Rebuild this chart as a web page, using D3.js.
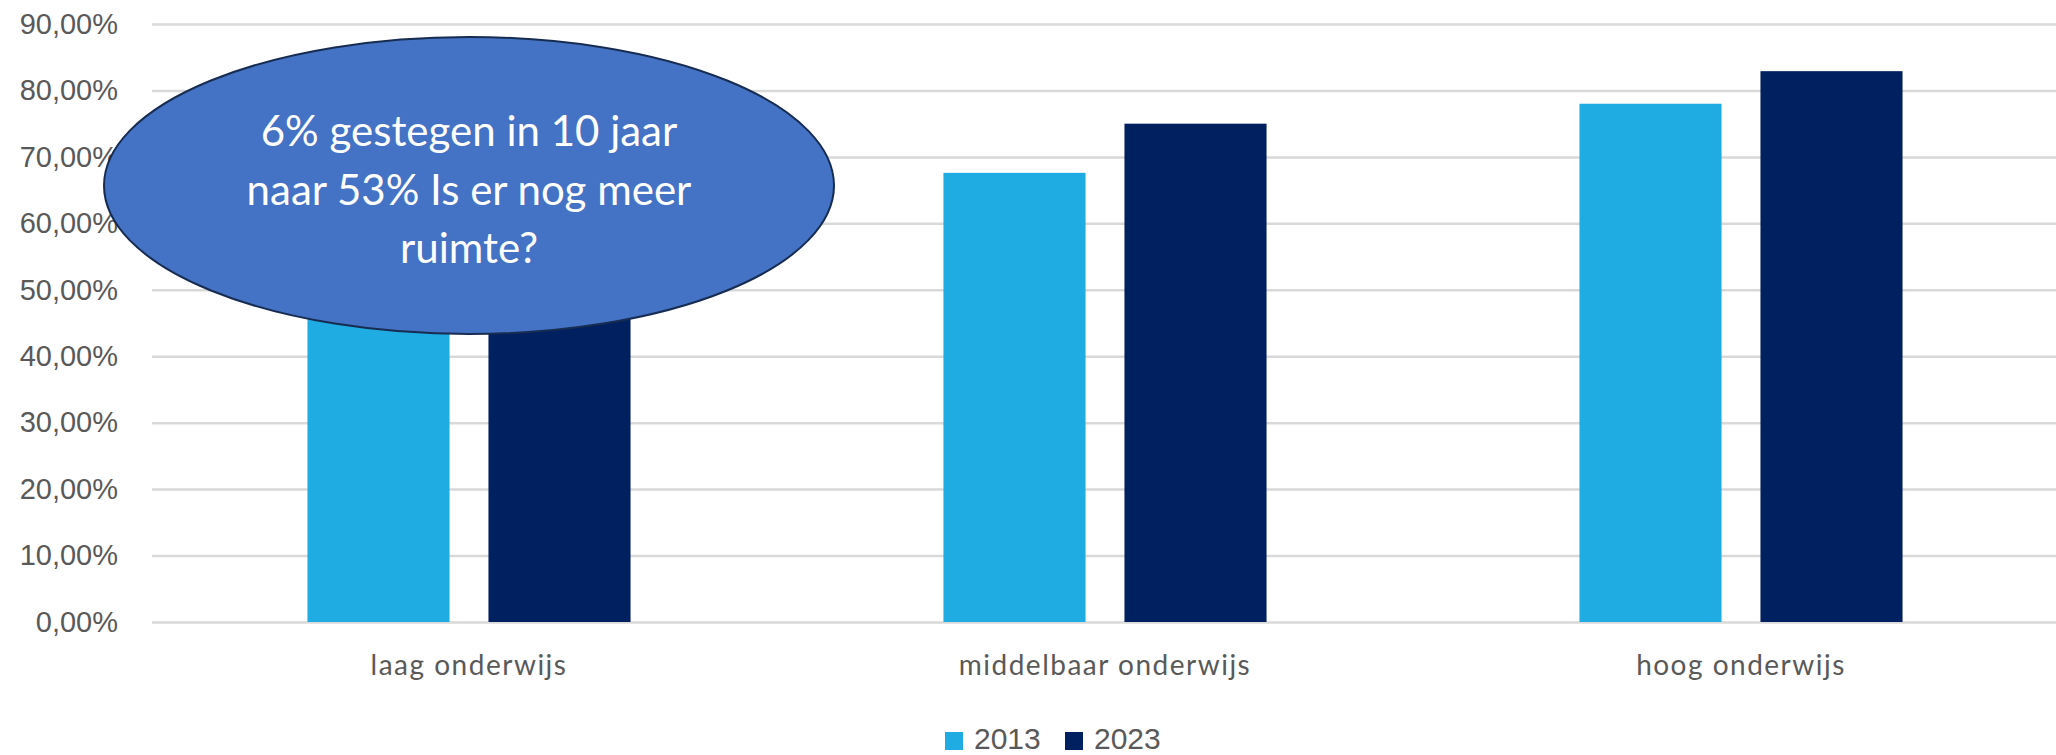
<!DOCTYPE html>
<html>
<head>
<meta charset="utf-8">
<script src="https://cdn.jsdelivr.net/npm/d3@7"></script>
<style>
  body { margin: 0; background: #fff; }
  svg { display: block; }
</style>
</head>
<body>
<svg id="chart" width="2056" height="755"></svg>
<script>
let categories = ["laag onderwijs", "middelbaar onderwijs", "hoog onderwijs"];
let years = ["2013", "2023"];
let values2013 = [0.47, 0.676, 0.78];
let values2023 = [0.53, 0.75, 0.829];
let yTicks = [0, 0.1, 0.2, 0.3, 0.4, 0.5, 0.6, 0.7, 0.8, 0.9];
let colors = ["#1EACE2", "#002060"];
let bubbleLines = ["6% gestegen in 10 jaar", "naar 53% Is er nog meer", "ruimte?"];

let svg = d3.select("#chart");
let width = +svg.attr("width");

let nl = d3.formatLocale({ decimal: ",", thousands: ".", grouping: [3], currency: ["€", ""] });
let pct = nl.format(".2%");

let x0 = d3.scaleBand().domain(categories).range([151, 2059]).padding(0);
let groupW = x0.bandwidth() * 0.508;
let x1 = d3.scaleBand().domain(years).range([0, groupW]).paddingInner(0.215).paddingOuter(0);
let y = d3.scaleLinear().domain([0, 0.9]).range([622, 24]);

// gridlines
svg.append("g")
  .attr("transform", "translate(152,0)")
  .call(d3.axisLeft(y).tickValues(yTicks).tickSize(-(width - 152)).tickFormat(""))
  .call(g => g.select(".domain").remove())
  .call(g => g.selectAll("line").attr("stroke", "#D9D9D9").attr("stroke-width", 2.5));

// y labels
svg.append("g")
  .attr("transform", "translate(152,0)")
  .call(d3.axisLeft(y).tickValues(yTicks).tickSize(0).tickPadding(34).tickFormat(pct))
  .call(g => g.select(".domain").remove())
  .call(g => g.selectAll("text")
    .attr("fill", "#595959")
    .style("font-family", "'Liberation Sans', Arial, sans-serif")
    .style("font-size", "29px"));

// bars
let rows = categories.map((c, i) => ({ cat: c, vals: [values2013[i], values2023[i]] }));

let group = svg.selectAll(".grp")
  .data(rows)
  .enter()
  .append("g")
  .attr("class", "grp")
  .attr("transform", d => `translate(${x0(d.cat) + (x0.bandwidth() - groupW) / 2},0)`);

group.selectAll("rect")
  .data(d => d.vals.map((v, j) => ({ year: years[j], v: v, c: colors[j] })))
  .enter()
  .append("rect")
  .attr("x", d => x1(d.year))
  .attr("y", d => y(d.v))
  .attr("width", x1.bandwidth())
  .attr("height", d => y(0) - y(d.v))
  .attr("fill", d => d.c);

// x labels
svg.append("g")
  .attr("transform", "translate(0,622)")
  .call(d3.axisBottom(x0).tickSize(0).tickPadding(33))
  .call(g => g.select(".domain").remove())
  .call(g => g.selectAll("text")
    .attr("fill", "#595959")
    .style("font-family", "Lato, sans-serif")
    .style("font-size", "28px")
    .style("letter-spacing", "1.5px"));

// legend
let legend = svg.append("g").attr("transform", "translate(945,732)");
let legendX = [0, 120];
let item = legend.selectAll("g")
  .data(years)
  .enter()
  .append("g")
  .attr("transform", (d, i) => `translate(${legendX[i]},0)`);
item.append("rect").attr("width", 18).attr("height", 18).attr("fill", (d, i) => colors[i]);
item.append("text")
  .attr("x", 29)
  .attr("y", 17)
  .attr("fill", "#595959")
  .style("font-family", "'Liberation Sans', Arial, sans-serif")
  .style("font-size", "30px")
  .text(d => d);

// callout bubble
let bubble = svg.append("g");
bubble.append("ellipse")
  .attr("cx", 469)
  .attr("cy", 185.5)
  .attr("rx", 365)
  .attr("ry", 148.5)
  .attr("fill", "#4472C4")
  .attr("stroke", "#172C51")
  .attr("stroke-width", 2);

bubble.append("text")
  .attr("text-anchor", "middle")
  .attr("fill", "#fff")
  .style("font-family", "Lato, 'Open Sans', sans-serif")
  .style("font-size", "42px")
  .selectAll("tspan")
  .data(bubbleLines)
  .enter()
  .append("tspan")
  .attr("x", 469)
  .attr("y", (d, i) => 146 + i * 58.5)
  .text(d => d);
</script>
</body>
</html>
